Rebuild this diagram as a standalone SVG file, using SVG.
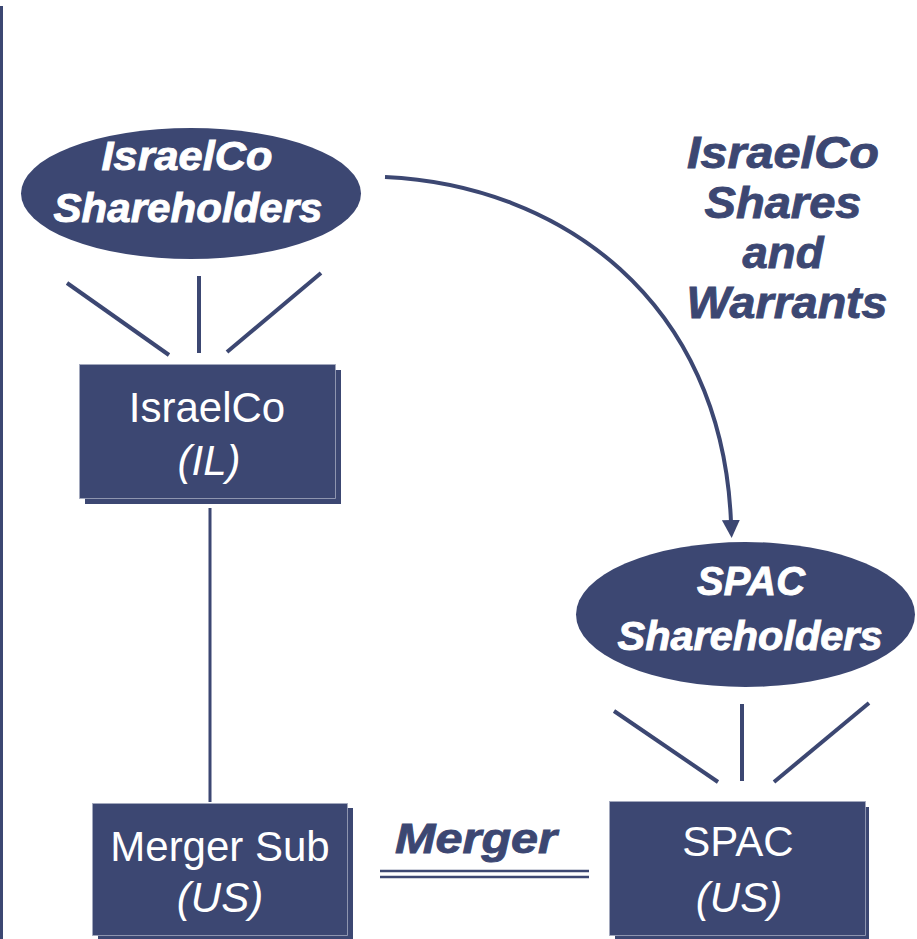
<svg xmlns="http://www.w3.org/2000/svg" width="917" height="939" viewBox="0 0 917 939">
  <style>
    .fill { fill: #3c4772; }
    .box { fill: #3c4772; stroke: #a4aabf; stroke-width: 0.8; }
    .line { stroke: #3c4772; stroke-width: 4; fill: none; }
    .bold { font-family: "Liberation Sans", Arial, sans-serif; font-weight: bold; font-style: italic; stroke-width: 0.9; }
    .reg { font-family: "Liberation Sans", Arial, sans-serif; font-size: 42px; fill: #ffffff; text-anchor: middle; }
    .ital { font-style: italic; }
    .wt { fill: #ffffff; stroke: #ffffff; }
    .nt { fill: #3c4772; stroke: #3c4772; }
  </style>
  <defs>
    <marker id="head" markerUnits="userSpaceOnUse" markerWidth="20" markerHeight="20" viewBox="0 0 20 20" refX="2" refY="10" orient="auto">
      <path d="M0,1 L18,10 L0,19 Z" class="fill"/>
    </marker>
  </defs>

  <rect width="917" height="939" fill="#ffffff"/>

  <!-- margin rule -->
  <line x1="1.5" y1="6" x2="1.5" y2="939" stroke="#3c4772" stroke-width="3"/>

  <!-- connectors -->
  <g id="connectors">
    <line class="line" x1="67" y1="283" x2="169" y2="355"/>
    <line class="line" x1="199" y1="276" x2="199" y2="353"/>
    <line class="line" x1="321" y1="273" x2="227" y2="352"/>
    <line class="line" x1="614" y1="711" x2="718" y2="782"/>
    <line class="line" x1="742" y1="704" x2="742" y2="781"/>
    <line class="line" x1="869" y1="703" x2="774" y2="782"/>
    <line x1="210" y1="508" x2="210" y2="802" stroke="#3c4772" stroke-width="3"/>
    <path class="line" d="M385,177 C560,185 722,300 731,522" stroke-width="4.5" marker-end="url(#head)"/>
    <line x1="380" y1="871" x2="589" y2="871" stroke="#3c4772" stroke-width="2.5"/>
    <line x1="380" y1="877" x2="589" y2="877" stroke="#3c4772" stroke-width="2.5"/>
  </g>

  <!-- labels on connectors -->
  <g id="label-transfer" class="bold nt" font-size="44" text-anchor="middle">
    <text x="783" y="168" textLength="192" lengthAdjust="spacingAndGlyphs">IsraelCo</text>
    <text x="783" y="218" textLength="157" lengthAdjust="spacingAndGlyphs">Shares</text>
    <text x="783" y="268" textLength="81" lengthAdjust="spacingAndGlyphs">and</text>
    <text x="787" y="318" textLength="201" lengthAdjust="spacingAndGlyphs">Warrants</text>
  </g>
  <g id="label-merger" class="bold nt" font-size="43" text-anchor="middle">
    <text x="476" y="853" textLength="162" lengthAdjust="spacingAndGlyphs">Merger</text>
  </g>

  <!-- shareholder groups -->
  <g id="israelco-shareholders">
    <ellipse class="fill" cx="191" cy="193.5" rx="170" ry="65.5"/>
    <g class="bold wt" font-size="40" text-anchor="middle">
      <text x="187" y="170" textLength="171" lengthAdjust="spacingAndGlyphs">IsraelCo</text>
      <text x="188" y="222" textLength="269" lengthAdjust="spacingAndGlyphs">Shareholders</text>
    </g>
  </g>
  <g id="spac-shareholders">
    <ellipse class="fill" cx="745.5" cy="614.5" rx="169.5" ry="72.5"/>
    <g class="bold wt" font-size="40" text-anchor="middle">
      <text x="751" y="595" textLength="108" lengthAdjust="spacingAndGlyphs">SPAC</text>
      <text x="750" y="650" textLength="265" lengthAdjust="spacingAndGlyphs">Shareholders</text>
    </g>
  </g>

  <!-- entities -->
  <g id="israelco">
    <rect class="fill" x="85" y="370" width="256" height="134"/>
    <rect class="box" x="79.5" y="364.5" width="256" height="134"/>
    <text class="reg" x="207" y="422">IsraelCo</text>
    <text class="reg ital" x="209" y="475">(IL)</text>
  </g>
  <g id="merger-sub">
    <rect class="fill" x="98" y="808" width="255" height="131"/>
    <rect class="box" x="92.5" y="803.5" width="255" height="132"/>
    <text class="reg" x="220" y="861">Merger Sub</text>
    <text class="reg ital" x="220" y="912">(US)</text>
  </g>
  <g id="spac">
    <rect class="fill" x="615" y="807" width="254" height="132"/>
    <rect class="box" x="609.5" y="801.5" width="256" height="134"/>
    <text class="reg" x="738" y="856">SPAC</text>
    <text class="reg ital" x="739" y="912">(US)</text>
  </g>
</svg>
